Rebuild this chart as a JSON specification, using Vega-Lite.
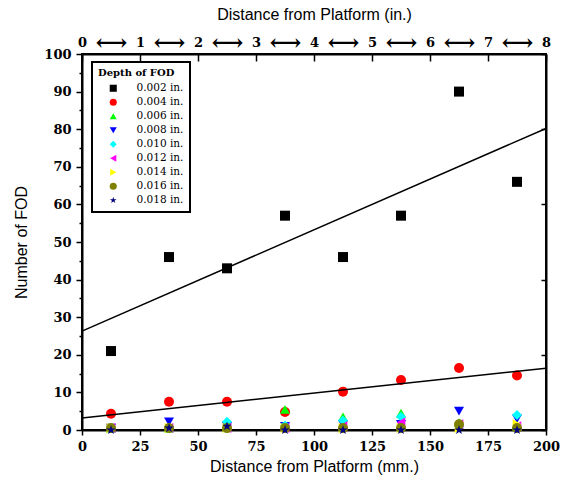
{
  "$schema": "https://vega.github.io/schema/vega-lite/v6.json",
  "width": 464,
  "height": 376,
  "autosize": {"type": "none"},
  "padding": {"left": 82, "top": 54, "right": 17, "bottom": 53},
  "background": "white",
  "config": {
    "view": {"stroke": "black", "strokeWidth": 2},
    "legend": {"strokeColor": "black", "strokeWidth": 2, "fillColor": "white"},
    "axis": {
      "domainColor": "black",
      "domainWidth": 2,
      "tickColor": "black",
      "tickWidth": 1.5,
      "labelColor": "black",
      "labelFont": "DejaVu Serif",
      "labelFontWeight": "bold",
      "labelFontSize": 13,
      "labelFlush": false,
      "labelOverlap": false,
      "labelBound": false,
      "titleFont": "Liberation Sans",
      "titleFontWeight": "normal",
      "titleFontSize": 16,
      "titleColor": "black",
      "grid": false
    }
  },
  "layer": [
    {
      "data": {
        "values": [
          {"mm": 12.5, "n": 21, "depth": "0.002 in."},
          {"mm": 37.5, "n": 46, "depth": "0.002 in."},
          {"mm": 62.5, "n": 43, "depth": "0.002 in."},
          {"mm": 87.5, "n": 57, "depth": "0.002 in."},
          {"mm": 112.5, "n": 46, "depth": "0.002 in."},
          {"mm": 137.5, "n": 57, "depth": "0.002 in."},
          {"mm": 162.5, "n": 90, "depth": "0.002 in."},
          {"mm": 187.5, "n": 66, "depth": "0.002 in."},
          {"mm": 12.5, "n": 4.3, "depth": "0.004 in."},
          {"mm": 37.5, "n": 7.5, "depth": "0.004 in."},
          {"mm": 62.5, "n": 7.5, "depth": "0.004 in."},
          {"mm": 87.5, "n": 4.8, "depth": "0.004 in."},
          {"mm": 112.5, "n": 10.2, "depth": "0.004 in."},
          {"mm": 137.5, "n": 13.3, "depth": "0.004 in."},
          {"mm": 162.5, "n": 16.5, "depth": "0.004 in."},
          {"mm": 187.5, "n": 14.5, "depth": "0.004 in."},
          {"mm": 12.5, "n": 0.5, "depth": "0.006 in."},
          {"mm": 37.5, "n": 0.5, "depth": "0.006 in."},
          {"mm": 62.5, "n": 1, "depth": "0.006 in."},
          {"mm": 87.5, "n": 5.5, "depth": "0.006 in."},
          {"mm": 112.5, "n": 3.5, "depth": "0.006 in."},
          {"mm": 137.5, "n": 4.5, "depth": "0.006 in."},
          {"mm": 162.5, "n": 2, "depth": "0.006 in."},
          {"mm": 187.5, "n": 1, "depth": "0.006 in."},
          {"mm": 12.5, "n": 0.5, "depth": "0.008 in."},
          {"mm": 37.5, "n": 2.2, "depth": "0.008 in."},
          {"mm": 62.5, "n": 1, "depth": "0.008 in."},
          {"mm": 87.5, "n": 1, "depth": "0.008 in."},
          {"mm": 112.5, "n": 1.5, "depth": "0.008 in."},
          {"mm": 137.5, "n": 1.5, "depth": "0.008 in."},
          {"mm": 162.5, "n": 5, "depth": "0.008 in."},
          {"mm": 187.5, "n": 3, "depth": "0.008 in."},
          {"mm": 12.5, "n": 0.5, "depth": "0.010 in."},
          {"mm": 37.5, "n": 0.5, "depth": "0.010 in."},
          {"mm": 62.5, "n": 2.2, "depth": "0.010 in."},
          {"mm": 87.5, "n": 1.2, "depth": "0.010 in."},
          {"mm": 112.5, "n": 2.5, "depth": "0.010 in."},
          {"mm": 137.5, "n": 3.5, "depth": "0.010 in."},
          {"mm": 162.5, "n": 1, "depth": "0.010 in."},
          {"mm": 187.5, "n": 4, "depth": "0.010 in."},
          {"mm": 12.5, "n": 0.5, "depth": "0.012 in."},
          {"mm": 37.5, "n": 0.5, "depth": "0.012 in."},
          {"mm": 62.5, "n": 0.5, "depth": "0.012 in."},
          {"mm": 87.5, "n": 0.5, "depth": "0.012 in."},
          {"mm": 112.5, "n": 1, "depth": "0.012 in."},
          {"mm": 137.5, "n": 2, "depth": "0.012 in."},
          {"mm": 162.5, "n": 1.5, "depth": "0.012 in."},
          {"mm": 187.5, "n": 1, "depth": "0.012 in."},
          {"mm": 12.5, "n": 0.5, "depth": "0.014 in."},
          {"mm": 37.5, "n": 0.5, "depth": "0.014 in."},
          {"mm": 62.5, "n": 0.5, "depth": "0.014 in."},
          {"mm": 87.5, "n": 0.5, "depth": "0.014 in."},
          {"mm": 112.5, "n": 0.5, "depth": "0.014 in."},
          {"mm": 137.5, "n": 0.5, "depth": "0.014 in."},
          {"mm": 162.5, "n": 0.5, "depth": "0.014 in."},
          {"mm": 187.5, "n": 1.5, "depth": "0.014 in."},
          {"mm": 12.5, "n": 0.5, "depth": "0.016 in."},
          {"mm": 37.5, "n": 0.5, "depth": "0.016 in."},
          {"mm": 62.5, "n": 0.5, "depth": "0.016 in."},
          {"mm": 87.5, "n": 0.5, "depth": "0.016 in."},
          {"mm": 112.5, "n": 0.5, "depth": "0.016 in."},
          {"mm": 137.5, "n": 0.5, "depth": "0.016 in."},
          {"mm": 162.5, "n": 1.5, "depth": "0.016 in."},
          {"mm": 187.5, "n": 0.5, "depth": "0.016 in."},
          {"mm": 12.5, "n": 0, "depth": "0.018 in."},
          {"mm": 37.5, "n": 0.5, "depth": "0.018 in."},
          {"mm": 62.5, "n": 1, "depth": "0.018 in."},
          {"mm": 87.5, "n": 0, "depth": "0.018 in."},
          {"mm": 112.5, "n": 0, "depth": "0.018 in."},
          {"mm": 137.5, "n": 0, "depth": "0.018 in."},
          {"mm": 162.5, "n": 0, "depth": "0.018 in."},
          {"mm": 187.5, "n": 0, "depth": "0.018 in."}
        ]
      },
      "layer": [
        {
          "mark": {"type": "point", "filled": true, "opacity": 1, "size": 100},
          "encoding": {
            "x": {
              "field": "mm", "type": "quantitative",
              "scale": {"domain": [0, 200], "nice": false, "zero": false},
              "axis": {
                "orient": "bottom",
                "title": "Distance from Platform (mm.)",
                "values": [0, 12.5, 25, 37.5, 50, 62.5, 75, 87.5, 100, 112.5, 125, 137.5, 150, 162.5, 175, 187.5, 200],
                "labelExpr": "datum.value % 25 == 0 ? format(datum.value, 'd') : '⟷'",
                "labelFontSize": {"condition": {"test": "datum.value % 25 != 0", "value": 22}, "value": 13},
                "labelBaseline": "middle",
                "labelOverlap": false,
                "tickOpacity": {"condition": {"test": "datum.value % 25 != 0", "value": 0}, "value": 1},
                "tickSize": 5,
                "labelPadding": 11,
                "titlePadding": 5
              }
            },
            "y": {
              "field": "n", "type": "quantitative",
              "scale": {"domain": [0, 100], "nice": false},
              "axis": {
                "orient": "right",
                "title": null,
                "labels": false,
                "values": [0, 5, 10, 15, 20, 25, 30, 35, 40, 45, 50, 55, 60, 65, 70, 75, 80, 85, 90, 95, 100],
                "tickSize": -5
              }
            },
            "color": {
              "field": "depth", "type": "nominal",
              "scale": {
                "domain": ["0.002 in.", "0.004 in.", "0.006 in.", "0.008 in.", "0.010 in.", "0.012 in.", "0.014 in.", "0.016 in.", "0.018 in."],
                "range": ["#000000", "#ff0000", "#00ff00", "#0000ff", "#00ffff", "#ff00ff", "#ffff00", "#808000", "#000080"]
              },
              "legend": {
                "title": "Depth of FOD",
                "orient": "none",
                "legendX": 10,
                "legendY": 8,
                "titleFont": "DejaVu Serif",
                "titleFontWeight": "bold",
                "titleFontSize": 10,
                "titleColor": "black",
                "labelFont": "DejaVu Serif",
                "labelFontSize": 10.5,
                "labelColor": "black",
                "symbolSize": 50,
                "rowPadding": 3,
                "padding": 6,
                "symbolOffset": 10,
                "labelOffset": 18
              }
            },
            "shape": {
              "field": "depth", "type": "nominal",
              "scale": {
                "domain": ["0.002 in.", "0.004 in.", "0.006 in.", "0.008 in.", "0.010 in.", "0.012 in.", "0.014 in.", "0.016 in.", "0.018 in."],
                "range": ["square", "circle", "triangle-up", "triangle-down", "diamond", "triangle-left", "triangle-right", "circle", "M0,-1L0.22,-0.3L0.95,-0.3L0.36,0.12L0.59,0.81L0,0.38L-0.59,0.81L-0.36,0.12L-0.95,-0.3L-0.22,-0.3Z"]
              },
              "legend": {"title": "Depth of FOD"}
            }
          }
        },
        {
          "transform": [
            {"filter": {"field": "depth", "oneOf": ["0.002 in.", "0.004 in."]}},
            {"regression": "n", "on": "mm", "groupby": ["depth"], "extent": [0, 200]}
          ],
          "mark": {"type": "line", "color": "black", "strokeWidth": 1.5},
          "encoding": {
            "x": {"field": "mm", "type": "quantitative"},
            "y": {"field": "n", "type": "quantitative"},
            "detail": {"field": "depth", "type": "nominal"}
          }
        }
      ]
    },
    {
      "data": {"values": [{"inch": 0, "v": 0}, {"inch": 8, "v": 100}]},
      "mark": {"type": "point", "opacity": 0},
      "encoding": {
        "x": {
          "field": "inch", "type": "quantitative",
          "scale": {"domain": [0, 8], "nice": false, "zero": false},
          "axis": {
            "orient": "top",
            "title": "Distance from Platform (in.)",
            "values": [0, 0.5, 1, 1.5, 2, 2.5, 3, 3.5, 4, 4.5, 5, 5.5, 6, 6.5, 7, 7.5, 8],
            "labelExpr": "datum.value % 1 == 0 ? format(datum.value, 'd') : '⟷'",
            "labelFontSize": {"condition": {"test": "datum.value % 1 != 0", "value": 22}, "value": 13},
            "labelBaseline": "middle",
            "labelOverlap": false,
            "tickOpacity": {"condition": {"test": "datum.value % 1 != 0", "value": 0}, "value": 1},
            "tickSize": -7,
            "labelPadding": 19,
            "titlePadding": 9
          }
        },
        "y": {
          "field": "v", "type": "quantitative",
          "scale": {"domain": [0, 100], "nice": false},
          "axis": {
            "orient": "left",
            "title": "Number of FOD",
            "values": [0, 5, 10, 15, 20, 25, 30, 35, 40, 45, 50, 55, 60, 65, 70, 75, 80, 85, 90, 95, 100],
            "labelExpr": "datum.value % 10 == 0 ? format(datum.value, 'd') : ''",
            "labelOverlap": false,
            "tickSize": {"condition": {"test": "datum.value % 10 != 0", "value": 3}, "value": 6},
            "labelPadding": 5,
            "titlePadding": 14
          }
        }
      }
    }
  ],
  "resolve": {"scale": {"x": "independent", "y": "independent"}, "axis": {"x": "independent", "y": "independent"}}
}
